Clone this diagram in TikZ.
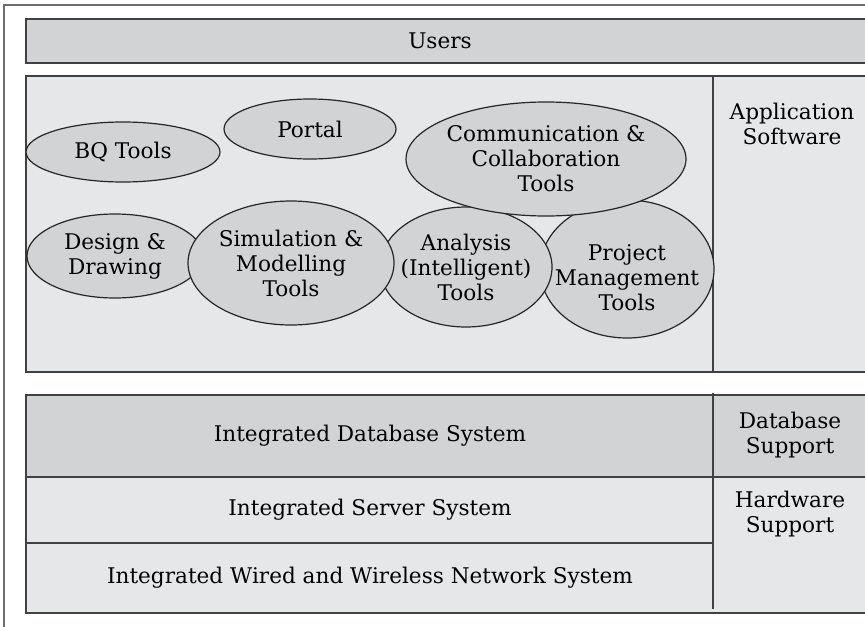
\documentclass[tikz,border=0pt]{standalone}
\usepackage{fontspec}
\setmainfont{DejaVu Serif}
\usepackage{tikz}
\usetikzlibrary{shapes,positioning}
\definecolor{gray1}{HTML}{D1D3D4}
\definecolor{gray2}{HTML}{E6E7E8}
\definecolor{line1}{HTML}{414042}
\definecolor{frame1}{HTML}{6D6E71}

\begin{document}
\begin{tikzpicture}
[x=0.5pt,y=-0.5pt,
font=\fontsize{10.8pt}{12.5pt}\selectfont,
tool/.style ={ellipse, draw=black!85, fill=gray1, line width=0.6pt,
align=center, inner sep=-4pt},
layer/.style ={draw=line1, line width=0.75pt},
txt/.style ={align=center, inner sep=0pt, text=black}]
\clip (0,0) rectangle (865,626);
% outer frame
\draw [frame1, line width=0.75pt] (4,700) -- (4,5) -- (900,5);
% users
\filldraw [layer, fill=gray1] (26,19) rectangle (900,63);
\node [txt]   (users)   at (440,41)     {Users};
% application software
\filldraw [layer, fill=gray2] (26,76) rectangle (900,372);
\draw [layer] (713,76) -- (713,372);
\node [txt]   (app)     at (792,124)    {Application\\Software};

\node [tool, minimum width=87pt, minimum height=69pt,
       label={[txt, yshift=-4.5pt]center:Project\\Management\\Tools}] (pm) at (627,269) {};
\node [tool, minimum width=86pt, minimum height=60pt]  (an)   at (466,267)  {Analysis\\(Intelligent)\\Tools};
\node [tool, minimum width=88pt, minimum height=42pt]  (dd)   at (115,256)  {Design \&\\Drawing};
\node [tool, minimum width=103pt, minimum height=62pt] (sim)  at (291,263)  {Simulation \&\\Modelling\\Tools};
\node [tool, minimum width=140pt, minimum height=57pt] (cc)   at (546,159)  {Communication \&\\Collaboration\\Tools};
\node [tool, minimum width=97pt, minimum height=30pt]  (bq)   at (123,152)  {BQ Tools};
\node [tool, minimum width=86pt, minimum height=30pt]  (po)   at (310,129)  {Portal};

% support layers
\fill [gray1] (26,395) rectangle (900,477);
\fill [gray2] (26,477) rectangle (900,613);
\draw [layer] (900,395) -- (26,395) -- (26,613) -- (900,613);
\draw [layer] (26,477) -- (900,477);
\draw [layer] (26,543) -- (713,543);
\draw [layer] (713,393) -- (713,609);
\node [txt]   (db)      at (370,436)    {Integrated Database System};
\node [txt]   (srv)     at (370,510)    {Integrated Server System};
\node [txt]   (net)     at (370,578)    {Integrated Wired and Wireless Network System};
\node [txt]   (dbs)     at (790,435)    {Database\\Support};
\node [txt]   (hws)     at (790,514)    {Hardware\\Support};
\end{tikzpicture}
\end{document}
